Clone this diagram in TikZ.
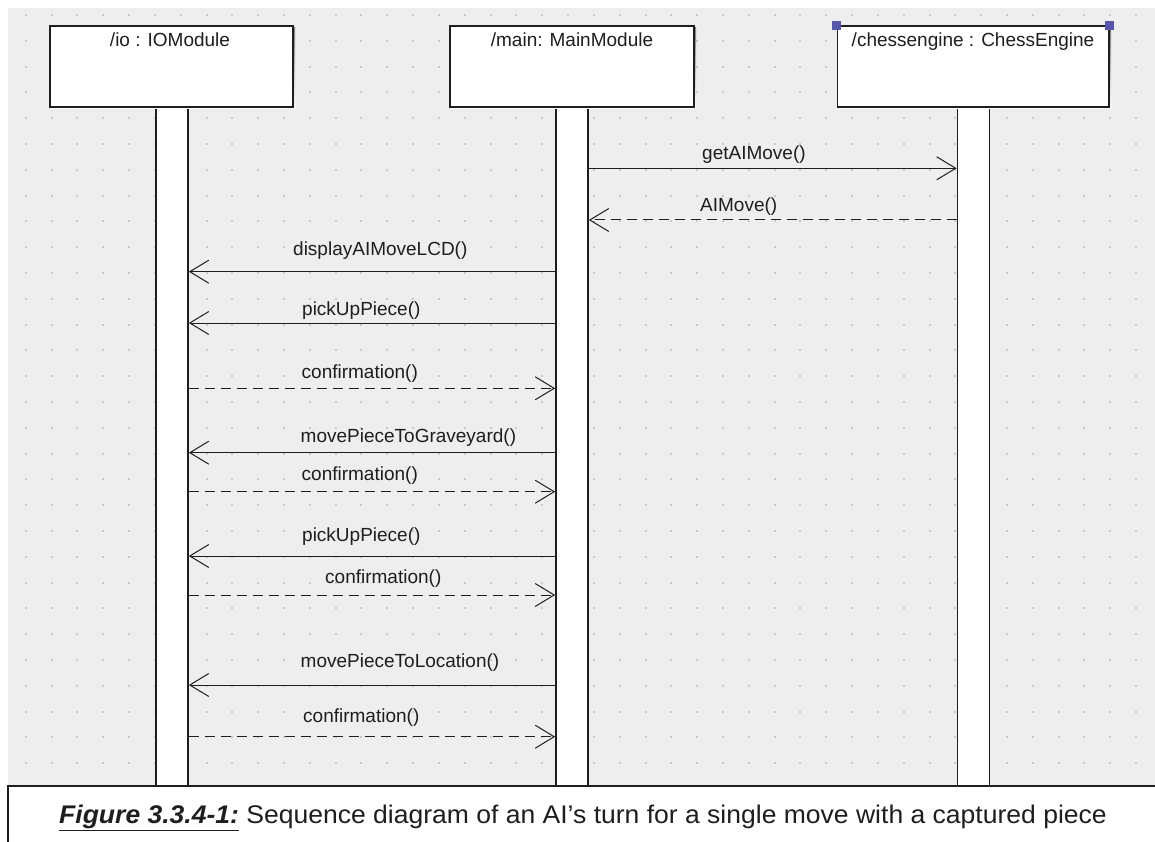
\documentclass[tikz,border=0pt]{standalone}
\usepackage{fontspec}
\setmainfont{Liberation Sans}
\usetikzlibrary{arrows.meta}
\definecolor{canvas}{HTML}{EEEEEE}
\definecolor{griddot}{HTML}{C9C9C9}
\definecolor{ink}{HTML}{1E1E1E}
\definecolor{handle}{HTML}{5656AC}
\definecolor{shade}{HTML}{A8A8A8}
\tikzset{
  headbox/.style={draw=ink, line width=1.6pt, fill=white, minimum height=81pt, inner sep=0pt},
  lifebar/.style={draw=ink, line width=1.7pt, fill=white, minimum width=32pt, minimum height=679pt, inner sep=0pt},
  headtext/.style={font=\fontsize{19}{22}\selectfont, text=ink, anchor=base, inner sep=0pt},
  msgtext/.style={font=\fontsize{19}{22}\selectfont, text=ink, anchor=base west, inner sep=0pt},
  call/.style={draw=ink, line width=1pt, -{Straight Barb[length=19pt,width=23pt,line width=1pt]}},
  reply/.style={call, dash pattern=on 10pt off 6pt},
  handlebox/.style={fill=handle, minimum size=9pt, inner sep=0pt},
}
\begin{document}
\begin{tikzpicture}[x=1pt,y=-1pt]
\useasboundingbox (0,0) rectangle (1155,842);
% drawing canvas with its dot grid
\fill[white] (0,0) rectangle (1155,842);
\fill[canvas] (8,8) rectangle (1155,786);
\foreach \i in {1,...,44}
  \foreach \j in {0,...,29}
    \fill[griddot] ({\i*25.82-1},{15+\j*25.8-1}) rectangle ++(2,2);

% lifelines
\node[lifebar] (ioL)    at (172,446.5) {};
\node[lifebar] (mainL)  at (572,446.5) {};
\node[lifebar] (chessL) at (973.5,446.5) {};

% object headers
\fill[shade] (51.5,27.5) rectangle (295,109);
\fill[shade] (451.5,27.5) rectangle (696,109);
\fill[shade] (839,27.5) rectangle (1111,109);
\node[headbox, minimum width=243pt] (ioH)    at (171.5,66.5) {};
\node[headbox, minimum width=244pt] (mainH)  at (572,66.5) {};
\node[headbox, minimum width=271.5pt] (chessH) at (973.25,66.5) {};
\node[headtext] (ioT)    at (170,47) {/io : IOModule};
\node[headtext] (mainT)  at (572,47) {/main: MainModule};
\node[headtext] (chessT) at (973,47) {/chessengine : ChessEngine};
\node[handlebox] (hl) at (chessH.north west) {};
\node[handlebox] (hr) at (chessH.north east) {};

% message rows
\coordinate (r1) at (0,168.3);
\coordinate (r2) at (0,220);
\coordinate (r3) at (0,271.7);
\coordinate (r4) at (0,323);
\coordinate (r5) at (0,388.3);
\coordinate (r6) at (0,452.7);
\coordinate (r7) at (0,491.7);
\coordinate (r8) at (0,556);
\coordinate (r9) at (0,595);
\coordinate (r10) at (0,685);
\coordinate (r11) at (0,736.7);

\draw[call]  (mainL.east |- r1) -- (chessL.west |- r1);
\draw[reply] (chessL.west |- r2) -- (mainL.east |- r2);
\draw[call]  (mainL.west |- r3) -- (ioL.east |- r3);
\draw[call]  (mainL.west |- r4) -- (ioL.east |- r4);
\draw[reply] (ioL.east |- r5) -- (mainL.west |- r5);
\draw[call]  (mainL.west |- r6) -- (ioL.east |- r6);
\draw[reply] (ioL.east |- r7) -- (mainL.west |- r7);
\draw[call]  (mainL.west |- r8) -- (ioL.east |- r8);
\draw[reply] (ioL.east |- r9) -- (mainL.west |- r9);
\draw[call]  (mainL.west |- r10) -- (ioL.east |- r10);
\draw[reply] (ioL.east |- r11) -- (mainL.west |- r11);

\node[msgtext] (m1)  at (702,160) {getAIMove()};
\node[msgtext] (m2)  at (700,211.5) {AIMove()};
\node[msgtext] (m3)  at (293,255) {displayAIMoveLCD()};
\node[msgtext] (m4)  at (302,315) {pickUpPiece()};
\node[msgtext] (m5)  at (301.5,378.3) {confirmation()};
\node[msgtext] (m6)  at (300.5,442.7) {movePieceToGraveyard()};
\node[msgtext] (m7)  at (301.5,480.7) {confirmation()};
\node[msgtext] (m8)  at (302,541) {pickUpPiece()};
\node[msgtext] (m9)  at (325,583.3) {confirmation()};
\node[msgtext] (m10) at (300.5,667) {movePieceToLocation()};
\node[msgtext] (m11) at (303,722) {confirmation()};

% caption frame
\fill[white] (8,786) rectangle (1155,842);
\draw[ink, line width=1.5pt] (8,842) -- (8,786) -- (1155,786);
\node[font=\fontsize{25.5}{30}\selectfont, text=ink, anchor=base, inner sep=0pt] (cap) at (583,823)
  {\scalebox{1.04}[1]{\underline{\textbf{\textit{Figure 3.3.4-1:}}} Sequence diagram of an AI’s turn for a single move with a captured piece}};
\end{tikzpicture}
\end{document}
